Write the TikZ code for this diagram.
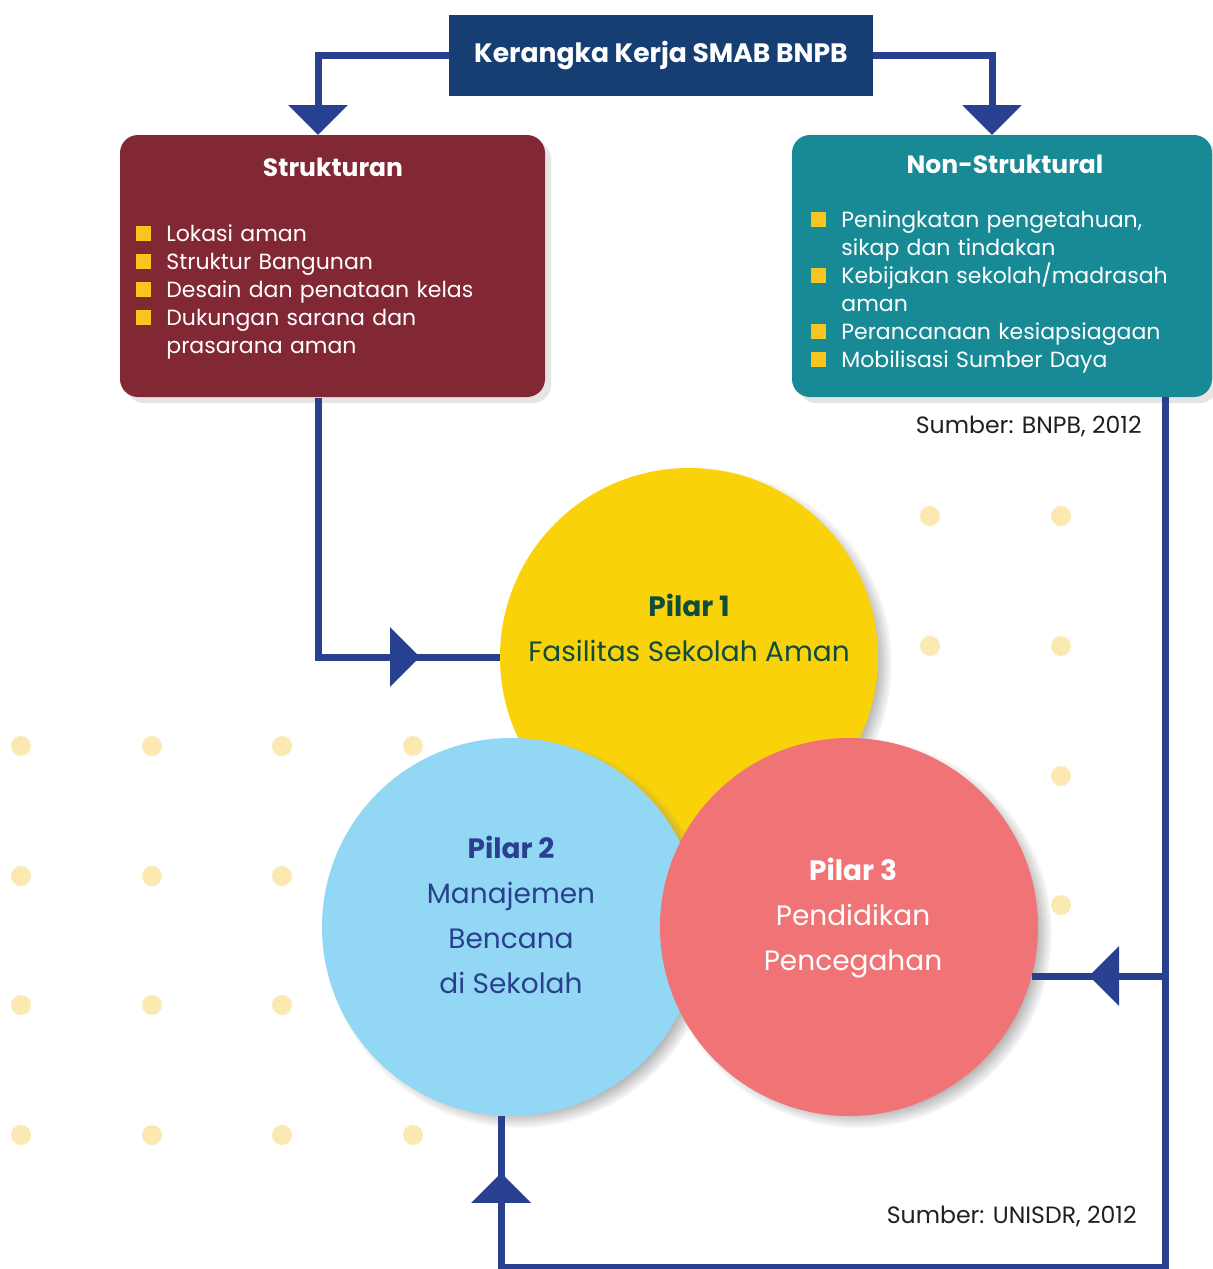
\documentclass[tikz,border=0pt]{standalone}
\usepackage{fontspec}
\setmainfont{Poppins}
\usetikzlibrary{arrows.meta,shadows,decorations.markings}

\definecolor{judulbiru}{HTML}{163E73}
\definecolor{garis}{HTML}{27408F}
\definecolor{merahtua}{HTML}{822834}
\definecolor{tosca}{HTML}{178A96}
\definecolor{kuning}{HTML}{F8C51F}
\definecolor{kuningbulat}{HTML}{FAD20A}
\definecolor{birumuda}{HTML}{92D7F3}
\definecolor{merahmuda}{HTML}{F07476}
\definecolor{titikkrem}{HTML}{FCE9B2}
\definecolor{hijautua}{HTML}{0E4D3E}
\definecolor{birutua}{HTML}{2B3F8F}
\definecolor{hitam}{HTML}{231F20}

% 列表项: 黄色方块 + 文字
\newcommand{\butir}[1]{\par\hangindent=15pt\hangafter=1\noindent\makebox[15pt][l]{\textcolor{kuning}{\rule{7.5pt}{7.5pt}}}#1}

\tikzset{panahdi/.style={postaction={decorate},
    decoration={markings, mark=at position #1 with {\arrow{Triangle[width=29pt,length=15pt]}}}}}

\begin{document}
\begin{tikzpicture}[x=0.5pt,y=-0.5pt]
    \tikzstyle{kotakjudul} = [rectangle, fill=judulbiru, text=white, font=\fontsize{13.3}{15}\selectfont\bfseries, minimum width=212pt, minimum height=40.5pt]
    \tikzstyle{kotak} = [rectangle, rounded corners=9pt, minimum width=212.5pt, minimum height=131pt, drop shadow={shadow xshift=3pt, shadow yshift=-3pt, opacity=.2}]
    \tikzstyle{judulkotak} = [text=white, font=\fontsize{12.5}{14}\selectfont\bfseries]
    \tikzstyle{daftar} = [anchor=north west, inner sep=0pt, text=white, text width=200pt, align=left, font=\fontsize{11}{14}\selectfont]
    \tikzstyle{pilar} = [circle, minimum size=189pt, inner sep=0pt, circular drop shadow={shadow xshift=4pt, shadow yshift=-3pt, shadow scale=1.03}]
    \tikzstyle{tekspilar} = [align=center, font=\fontsize{14}{22.5}\selectfont]
    \tikzstyle{garisalir} = [color=garis, line width=3.5pt]
    \tikzstyle{panah} = [-{Triangle[width=29pt,length=15pt]}]
    \tikzstyle{titik} = [fill=titikkrem]
    \tikzstyle{sumber} = [anchor=east, inner sep=0pt, text=hitam, font=\fontsize{11.8}{13}\selectfont]

    \useasboundingbox (0,0) rectangle (1212,1269);
    \fill[white] (0,0) rectangle (1212,1269);

    % 背景圆点
    \foreach \x in {21,152,282,413}
        \foreach \y in {746,876,1005,1135}
            \fill[titik] (\x,\y) circle (5pt);
    \foreach \x in {930,1061}
        \foreach \y in {516,646,776,905}
            \fill[titik] (\x,\y) circle (5pt);

    % 标题与两个方框
    \path   (661,55.5) node [kotakjudul, name=kerangka] {Kerangka Kerja SMAB BNPB}
            (332.5,266) node [kotak, fill=merahtua, name=struktural] {}
            (1002,266) node [kotak, fill=tosca, minimum width=210pt, name=nonstruktural] {};

    \path   (333,167) node [judulkotak, name=judulS] {Strukturan}
            (1005,164) node [judulkotak, name=judulN] {Non-Struktural}
            (136,213) node [daftar, name=daftarS] {%
                \butir{Lokasi aman}
                \butir{Struktur Bangunan}
                \butir{Desain dan penataan kelas}
                \butir{Dukungan sarana dan\newline prasarana aman}\par}
            (811,199) node [daftar, name=daftarN] {%
                \butir{Peningkatan pengetahuan,\newline sikap dan tindakan}
                \butir{Kebijakan sekolah/madrasah\newline aman}
                \butir{Perancanaan kesiapsiagaan}
                \butir{Mobilisasi Sumber Daya}\par};

    % 三个支柱
    \path   (689,657) node [pilar, fill=kuningbulat, name=pilar1] {}
            (511,927) node [pilar, fill=birumuda, name=pilar2] {}
            (849,927) node [pilar, fill=merahmuda, name=pilar3] {};

    \path   (689,628) node [tekspilar, text=hijautua, name=teks1] {\textbf{Pilar 1}\\Fasilitas Sekolah Aman}
            (511,915) node [tekspilar, text=birutua, name=teks2] {\textbf{Pilar 2}\\Manajemen\\Bencana\\di Sekolah}
            (853,918) node [tekspilar, text=white, name=teks3] {\textbf{Pilar 3}\\Pendidikan\\Pencegahan};

    % 连线
    \coordinate (kiriatas) at (318,135);
    \coordinate (kananatas) at (992,135);
    \coordinate (kiribawah) at (318,398);
    \coordinate (kananbawah) at (1165,397);
    \coordinate (sudut) at (1165,1267);
    \coordinate (cabang) at (kananbawah |- pilar3.-15.3);

    \draw[garisalir, panah] (kerangka.west) -| (kiriatas);
    \draw[garisalir, panah] (kerangka.east) -| (kananatas);
    \draw[garisalir, panahdi=180.5pt] (kiribawah) |- (pilar1.west);
    \draw[garisalir, panahdi=814pt] (kananbawah) -- (sudut) -| (pilar2.-93);
    \draw[garisalir, panahdi=38pt] (cabang) -- (pilar3.-15.3);

    \path   (1142,426) node [sumber, name=sumber1] {Sumber: BNPB, 2012}
            (1137,1216) node [sumber, name=sumber2] {Sumber: UNISDR, 2012};
\end{tikzpicture}
\end{document}
